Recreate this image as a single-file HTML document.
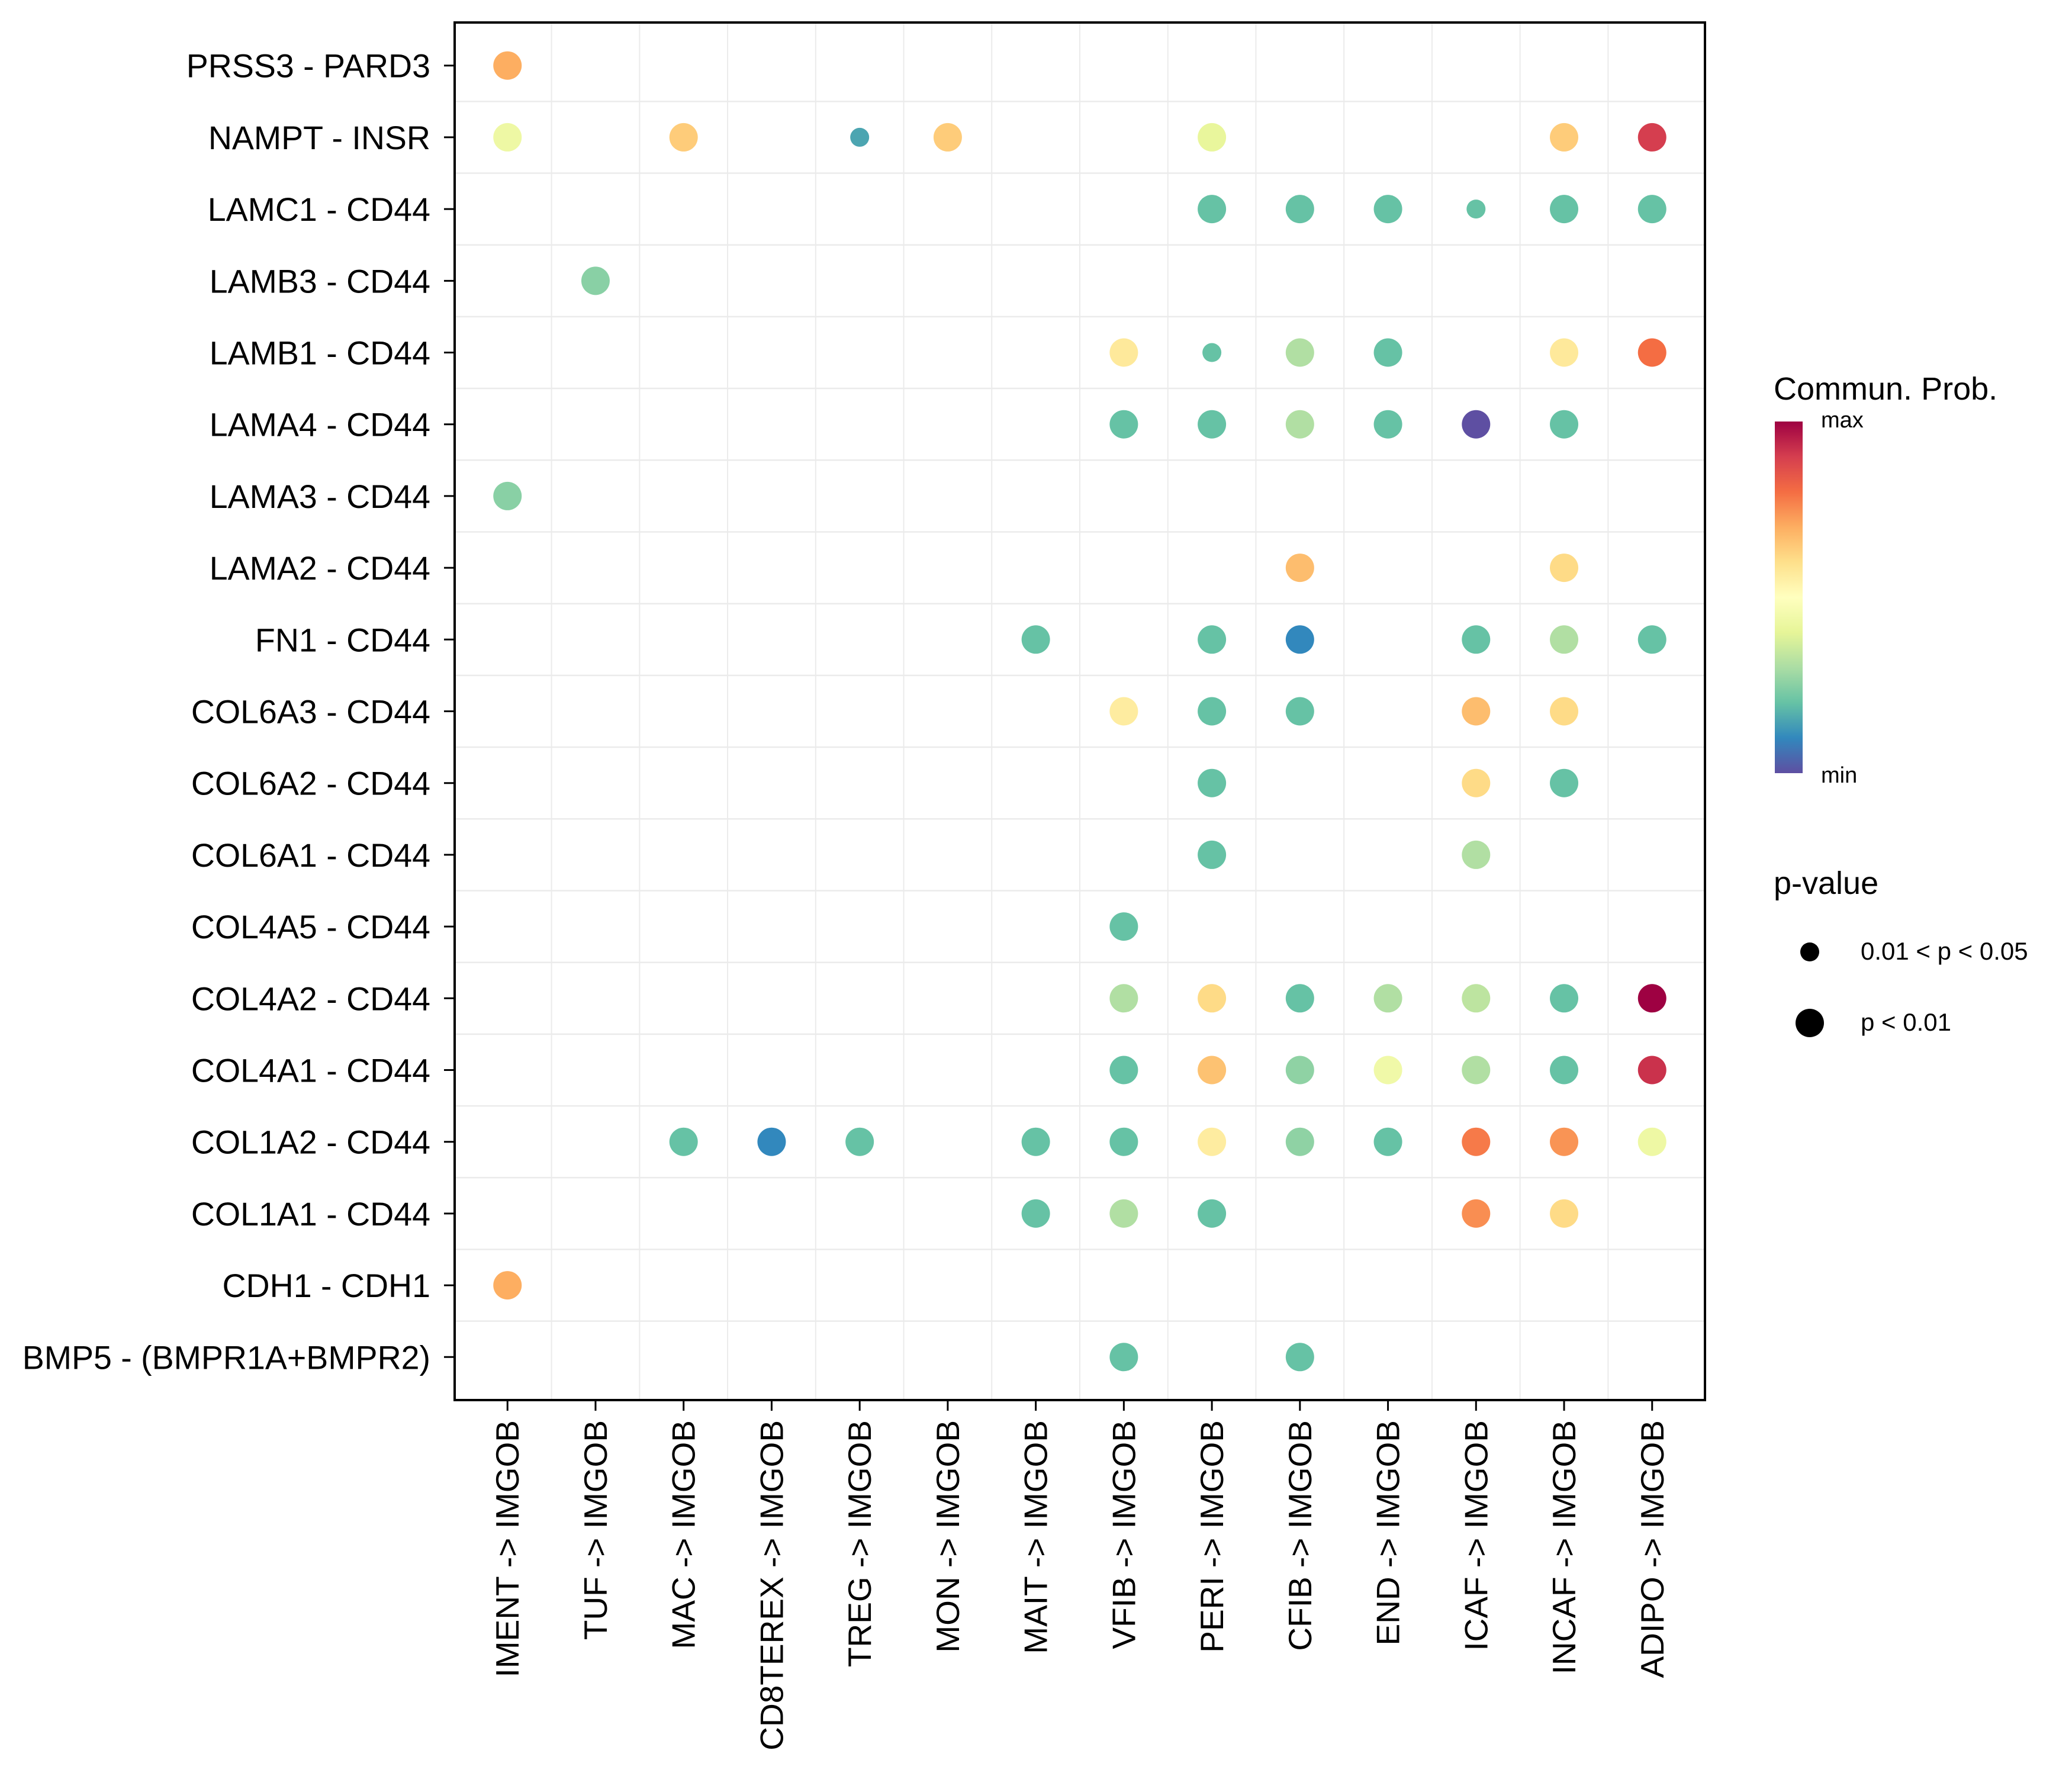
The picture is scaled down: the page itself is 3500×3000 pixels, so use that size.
<!DOCTYPE html>
<html><head><meta charset="utf-8"><style>
html,body{margin:0;padding:0;background:#fff;}
svg{display:block;font-family:"Liberation Sans",sans-serif;}
</style></head><body>
<svg id="chart" width="3500" height="3000" viewBox="0 0 3500 3000" xmlns="http://www.w3.org/2000/svg">
<defs>
<linearGradient id="spec" x1="0" y1="1" x2="0" y2="0">
<stop offset="0" stop-color="#5E4FA2"/><stop offset="0.1" stop-color="#3288BD"/><stop offset="0.2" stop-color="#66C2A5"/><stop offset="0.3" stop-color="#ABDDA4"/><stop offset="0.4" stop-color="#E6F598"/><stop offset="0.5" stop-color="#FFFFBF"/><stop offset="0.6" stop-color="#FEE08B"/><stop offset="0.7" stop-color="#FDAE61"/><stop offset="0.8" stop-color="#F46D43"/><stop offset="0.9" stop-color="#D53E4F"/><stop offset="1" stop-color="#9E0142"/>
</linearGradient>
</defs>
<g id="grid"></g>
<g id="dots"></g>
<rect id="border" x="768" y="38" width="2112" height="2327" fill="none" stroke="#000" stroke-width="4"/>
<g id="yaxis"></g>
<g id="xaxis"></g>
<g>
<text x="2996" y="675" font-size="54">Commun. Prob.</text>
<rect x="2998" y="712" width="47" height="594" fill="url(#spec)"/>
<text x="3076" y="722" font-size="38">max</text>
<text x="3076" y="1322" font-size="38">min</text>
</g>
<g>
<text x="2996" y="1510" font-size="54">p-value</text>
<circle cx="3057" cy="1608" r="16" fill="#000"/>
<text x="3143" y="1621" font-size="42">0.01 &lt; p &lt; 0.05</text>
<circle cx="3057" cy="1728" r="24" fill="#000"/>
<text x="3143" y="1741" font-size="42">p &lt; 0.01</text>
</g>
</svg>
<script>
const columns = ["IMENT -> IMGOB","TUF -> IMGOB","MAC -> IMGOB","CD8TEREX -> IMGOB","TREG -> IMGOB","MON -> IMGOB","MAIT -> IMGOB","VFIB -> IMGOB","PERI -> IMGOB","CFIB -> IMGOB","END -> IMGOB","ICAF -> IMGOB","INCAF -> IMGOB","ADIPO -> IMGOB"];
const rows = ["PRSS3 - PARD3","NAMPT - INSR","LAMC1 - CD44","LAMB3 - CD44","LAMB1 - CD44","LAMA4 - CD44","LAMA3 - CD44","LAMA2 - CD44","FN1 - CD44","COL6A3 - CD44","COL6A2 - CD44","COL6A1 - CD44","COL4A5 - CD44","COL4A2 - CD44","COL4A1 - CD44","COL1A2 - CD44","COL1A1 - CD44","CDH1 - CDH1","BMP5 - (BMPR1A+BMPR2)"];
// [rowIndex, colIndex]
const dotRow = [0, 1,1,1,1,1,1,1, 2,2,2,2,2,2, 3, 4,4,4,4,4,4, 5,5,5,5,5,5, 6, 7,7, 8,8,8,8,8,8, 9,9,9,9,9, 10,10,10, 11,11, 12, 13,13,13,13,13,13,13, 14,14,14,14,14,14,14, 15,15,15,15,15,15,15,15,15,15,15, 16,16,16,16,16, 17, 18,18];
const dotCol = [0, 0,2,4,5,8,12,13, 8,9,10,11,12,13, 1, 7,8,9,10,12,13, 7,8,9,10,11,12, 0, 9,12, 6,8,9,11,12,13, 7,8,9,11,12, 8,11,12, 8,11, 7, 7,8,9,10,11,12,13, 7,8,9,10,11,12,13, 2,3,4,6,7,8,9,10,11,12,13, 6,7,8,11,12, 0, 7,9];
const prob = [0.7, 0.43,0.64,0.15,0.64,0.41,0.64,0.9, 0.2,0.2,0.2,0.2,0.2,0.2, 0.25, 0.57,0.2,0.31,0.2,0.57,0.8, 0.2,0.2,0.31,0.2,0.0,0.2, 0.25, 0.67,0.61, 0.2,0.2,0.1,0.2,0.31,0.2, 0.56,0.2,0.2,0.67,0.61, 0.2,0.61,0.2, 0.2,0.31, 0.2, 0.31,0.61,0.2,0.31,0.33,0.2,1.0, 0.2,0.66,0.26,0.44,0.31,0.2,0.92, 0.2,0.1,0.2,0.2,0.2,0.56,0.26,0.2,0.78,0.74,0.43, 0.2,0.31,0.2,0.75,0.61, 0.7, 0.2,0.2];
const pSig = [1, 1,1,0,1,1,1,1, 1,1,1,0,1,1, 1, 1,0,1,1,1,1, 1,1,1,1,1,1, 1, 1,1, 1,1,1,1,1,1, 1,1,1,1,1, 1,1,1, 1,1, 1, 1,1,1,1,1,1,1, 1,1,1,1,1,1,1, 1,1,1,1,1,1,1,1,1,1,1, 1,1,1,1,1, 1, 1,1];

const NS="http://www.w3.org/2000/svg";
const L=768,R=2880,T=38,B=2365;
const colStep=(R-L)/(columns.length-1+1.2), rowStep=(B-T)/(rows.length-1+1.2);
function xPos(i){return L+colStep*(0.6+i);}
function yPos(i){return T+rowStep*(0.6+i);}
const pal=["#5E4FA2","#3288BD","#66C2A5","#ABDDA4","#E6F598","#FFFFBF","#FEE08B","#FDAE61","#F46D43","#D53E4F","#9E0142"];
function hex(h){return [1,3,5].map(k=>parseInt(h.substr(k,2),16));}
function colorOf(v){v=Math.max(0,Math.min(1,v));const t=v*10,i=Math.min(9,Math.floor(t)),f=t-i;const a=hex(pal[i]),b=hex(pal[i+1]);return "rgb("+a.map((c,k)=>Math.round(c+(b[k]-c)*f)).join(",")+")";}
function mk(tag,attrs,parent){const e=document.createElementNS(NS,tag);for(const k in attrs)e.setAttribute(k,attrs[k]);parent.appendChild(e);return e;}

const grid=document.getElementById('grid');
for(let i=0;i<columns.length-1;i++){
  const x=(xPos(i)+xPos(i+1))/2;
  const ln=mk('line',{x1:x,x2:x,y1:T,y2:B,stroke:"#ebebeb","stroke-width":2},grid);
  
  
}
for(let i=0;i<rows.length-1;i++){
  const y=(yPos(i)+yPos(i+1))/2;
  const ln=mk('line',{x1:L,x2:R,y1:y,y2:y,stroke:"#ebebeb","stroke-width":2.5},grid);
  
  
}
const yax=document.getElementById('yaxis');
rows.forEach((r,i)=>{
  const y=yPos(i);
  const tk=mk('line',{x1:750,x2:768,y1:y,y2:y,stroke:"#000","stroke-width":3},yax);
  
  
  const t=mk('text',{x:727,y:y+20,"text-anchor":"end","font-size":55.5},yax);
  t.textContent=r;
  
  
});
const xax=document.getElementById('xaxis');
columns.forEach((c,i)=>{
  const x=xPos(i);
  const tk=mk('line',{x1:x,x2:x,y1:B,y2:B+18,stroke:"#000","stroke-width":3},xax);
  
  
  const t=mk('text',{x:0,y:0,"text-anchor":"end","font-size":55,transform:"translate("+(x+19)+","+(B+34)+") rotate(-90)"},xax);
  t.textContent=c;
  
  
});
const dots=document.getElementById('dots');
for(let k=0;k<dotRow.length;k++){
  const d=mk('circle',{cx:xPos(dotCol[k]),cy:yPos(dotRow[k]),r:pSig[k]?24:16,fill:colorOf(prob[k])},dots);
  
  
}
</script>
</body></html>
